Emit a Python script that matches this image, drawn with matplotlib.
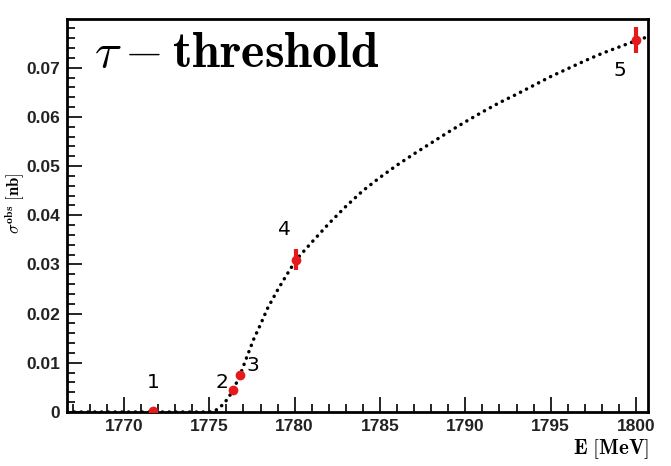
import matplotlib
matplotlib.use("Agg")
import matplotlib.pyplot as plt
from matplotlib.ticker import MultipleLocator, FuncFormatter

# ---- data ----
point_E = [1771.7, 1776.4, 1776.8, 1780.1, 1800.0]
point_sigma = [0.0002, 0.0045, 0.0075, 0.0310, 0.0756]
point_err = [0.0, 0.0, 0.0, 0.0022, 0.0026]
point_labels = ["1", "2", "3", "4", "5"]
label_E = [1771.7, 1775.75, 1777.55, 1779.4, 1799.05]
label_sigma = [0.0059, 0.0059, 0.0094, 0.0372, 0.0694]

curve_E = [1766.7, 1775.0, 1775.4, 1775.8, 1776.1, 1776.4, 1776.8, 1777.2,
           1777.6, 1778.0, 1778.4, 1779.0, 1779.5, 1780.1, 1781.0, 1782.0,
           1783.0, 1784.0, 1785.0, 1786.0, 1787.0, 1788.0, 1789.0, 1790.0,
           1791.0, 1792.0, 1793.0, 1794.0, 1795.0, 1796.0, 1797.0, 1798.0,
           1799.0, 1800.0, 1800.7]
curve_sigma = [0.0, 0.0, 0.0004, 0.0015, 0.0028, 0.0045, 0.0075, 0.0112,
               0.0148, 0.0178, 0.0210, 0.0248, 0.0277, 0.0310, 0.0345, 0.0383,
               0.0418, 0.0450, 0.0477, 0.0502, 0.0525, 0.0547, 0.0569, 0.0590,
               0.0610, 0.0629, 0.0646, 0.0664, 0.0682, 0.0698, 0.0714, 0.0729,
               0.0742, 0.0755, 0.0763]

RED = "#e41a1c"

plt.rcParams["mathtext.fontset"] = "cm"

fig = plt.figure(figsize=(6.71, 4.66), dpi=100)
ax = fig.add_axes([0.0998, 0.1159, 0.8659, 0.8433])

ax.plot(curve_E, curve_sigma, color="black", linestyle=(0, (0.05, 1.9)),
        linewidth=2.5, dash_capstyle="round", zorder=2)

ax.errorbar(point_E, point_sigma, yerr=point_err, fmt="o", color=RED,
            markersize=6, elinewidth=3, capsize=0, zorder=3)

for e, s, t in zip(label_E, label_sigma, point_labels):
    ax.text(e, s, t, fontsize=14.5, family="DejaVu Sans", ha="center",
            va="center", color="black")

ax.set_xlim(1766.66, 1800.7)
ax.set_ylim(0, 0.0799)

ax.xaxis.set_major_locator(MultipleLocator(5))
ax.xaxis.set_minor_locator(MultipleLocator(1))
ax.yaxis.set_major_locator(MultipleLocator(0.01))
ax.yaxis.set_minor_locator(MultipleLocator(0.002))

def yfmt(v, pos):
    if abs(v) < 1e-9:
        return "0"
    return f"{v:.2f}"

ax.yaxis.set_major_formatter(FuncFormatter(yfmt))
ax.xaxis.set_major_formatter(FuncFormatter(lambda v, p: f"{v:.0f}"))

ax.tick_params(which="both", direction="in", top=False, right=False, width=1.2)
ax.tick_params(which="major", length=11)
ax.tick_params(which="minor", length=6)
ax.tick_params(axis="x", which="major", pad=5)
ax.tick_params(axis="y", which="major", pad=5)
for lab in ax.get_xticklabels() + ax.get_yticklabels():
    lab.set_family("Liberation Sans")
    lab.set_fontweight("bold")
    lab.set_fontsize(12.5)
    lab.set_color("#222222")

for sp in ax.spines.values():
    sp.set_linewidth(2)

ax.text(0.047, 0.914, r"$\tau - \mathbf{threshold}$", transform=ax.transAxes,
        fontsize=36, ha="left", va="center")

fig.text(0.968, 0.036, r"$\mathbf{E\ [MeV]}$", fontsize=15, ha="right", va="center")
fig.text(0.022, 0.564, r"$\sigma^{\mathbf{obs}}\ [\mathbf{nb}]$", fontsize=12,
         rotation=90, ha="center", va="center")

fig.savefig("out.png", dpi=100)
